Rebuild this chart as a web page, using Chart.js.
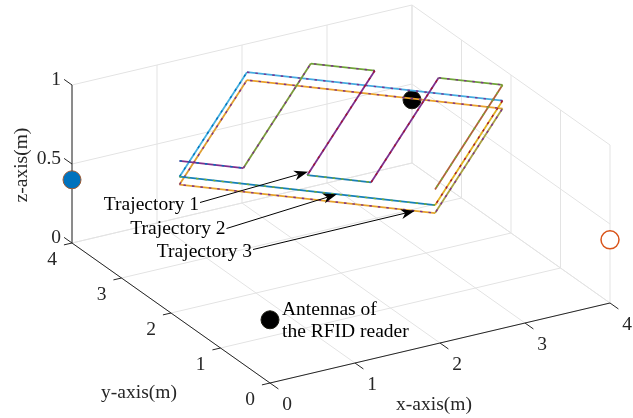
<!DOCTYPE html>
<html>
<head>
<meta charset="utf-8">
<script src="https://cdn.jsdelivr.net/npm/chart.js@4.4.1/dist/chart.umd.min.js"></script>
<style>
  html, body { margin: 0; padding: 0; background: #ffffff; }
  canvas { display: block; }
</style>
</head>
<body>
<canvas id="c" width="633" height="418"></canvas>
<script>
// ---- axis ticks (m) ----
const xTicks = [0, 1, 2, 3, 4];
const yTicks = [0, 1, 2, 3, 4];
const zTicks = [0, 0.5, 1];
const xTickLabels = ['0', '1', '2', '3', '4'];
const yTickLabels = ['0', '1', '2', '3', '4'];
const zTickLabels = ['0', '0.5', '1'];

// ---- RFID reader antennas (m) ----
const antennaX = [0, 4, 4, 0];
const antennaY = [4, 0, 4, 0];
const antennaZ = [0.4, 0.4, 0.4, 0.4];

// ---- Trajectory 1: serpentine sweep (m) ----
const traj1X = [0.1, 0.575, 2.475, 2.95, 1.05, 1.525, 3.425, 3.9, 2.0];
const traj1Y = [2.0, 1.525, 3.425, 2.95, 1.05, 0.575, 2.475, 2.0, 0.1];
const traj1Z = [0.95, 0.95, 0.95, 0.95, 0.95, 0.95, 0.95, 0.95, 0.95];

// ---- Trajectory 2: square loop (m) ----
const traj2X = [0.1, 2.0, 3.9, 2.0, 0.1];
const traj2Y = [2.0, 3.9, 2.0, 0.1, 2.0];
const traj2Z = [0.85, 0.85, 0.85, 0.85, 0.85];

// ---- Trajectory 3: square loop (m) ----
const traj3X = [0.1, 2.0, 3.9, 2.0, 0.1];
const traj3Y = [2.0, 3.9, 2.0, 0.1, 2.0];
const traj3Z = [0.8, 0.8, 0.8, 0.8, 0.8];

// ---- callout texts and the points their arrows touch (m) ----
const calloutTexts = ['Trajectory 1', 'Trajectory 2', 'Trajectory 3'];
const calloutTargetX = [1.10, 1.27, 1.85];
const calloutTargetY = [1.12, 0.83, 0.25];
const calloutTargetZ = [0.95, 0.85, 0.80];
const antennaNote = ['Antennas of', 'the RFID reader'];

// ---- styling ----
const C = {
  blue: '#0072BD', orange: '#D95319', yellow: '#EDB120', purple: '#7E2F8E',
  green: '#77AC30', cyan: '#4DBEEE', red: '#A2142F'
};
const traj1Base = [C.purple, '#7A9A3A', '#6FA438', C.purple, '#1B7FB4', C.purple, '#6FA438', '#B0623A'];
const traj1Dash = [C.blue, C.purple, C.purple, C.red, C.green, C.red, C.purple, C.green];
const traj2Base = ['#45B0E0', '#45ACE0', '#E0B022', '#1580B8'];
const traj2Dash = [C.blue, C.purple, C.red, C.green];
const traj3Base = ['#E0A030', '#EAA22A', '#A8A040', '#E6A32C'];
const traj3Dash = [C.purple, C.purple, C.purple, C.purple];

const FONT = '19.5px "Liberation Serif", "Times New Roman", serif';
const GRID_COLOR = '#E3E3E3';
const AXIS_COLOR = '#262626';

// Orthographic view of the 3-D box onto the 2-D drawing plane
const VIEW = { ox: 270, oy: 383, ux: [85, -20], uy: [-49.5, -35], uz: -158 };
const TICK = { x: 0.17, y: 0.095, z: 0.16 };
function P(x, y, z) {
  return {
    x: VIEW.ox + VIEW.ux[0] * x + VIEW.uy[0] * y,
    y: VIEW.oy + VIEW.ux[1] * x + VIEW.uy[1] * y + VIEW.uz * z
  };
}

const X0 = xTicks[0], X1 = xTicks[xTicks.length - 1];
const Y0 = yTicks[0], Y1 = yTicks[yTicks.length - 1];
const Z0 = zTicks[0], Z1 = zTicks[zTicks.length - 1];

function segData(segs) {
  const out = [];
  segs.forEach(([a, b]) => { out.push(P(...a), P(...b), { x: NaN, y: NaN }); });
  return out;
}

// Grid on the floor, the back wall (y max) and the side wall (x max)
const gridSegs = [];
xTicks.forEach(x => gridSegs.push([[x, Y0, Z0], [x, Y1, Z0]]));
yTicks.forEach(y => gridSegs.push([[X0, y, Z0], [X1, y, Z0]]));
xTicks.forEach(x => gridSegs.push([[x, Y1, Z0], [x, Y1, Z1]]));
zTicks.forEach(z => gridSegs.push([[X0, Y1, z], [X1, Y1, z]]));
yTicks.forEach(y => gridSegs.push([[X1, y, Z0], [X1, y, Z1]]));
zTicks.forEach(z => gridSegs.push([[X1, Y0, z], [X1, Y1, z]]));

// Axis lines and tick marks
const axisSegs = [
  [[X0, Y0, Z0], [X1, Y0, Z0]],
  [[X0, Y0, Z0], [X0, Y1, Z0]],
  [[X0, Y1, Z0], [X0, Y1, Z1]]
];
xTicks.forEach(x => axisSegs.push([[x, Y0, Z0], [x, Y0 - TICK.x, Z0]]));
yTicks.forEach(y => axisSegs.push([[X0, y, Z0], [X0 - TICK.y, y, Z0]]));
zTicks.forEach(z => axisSegs.push([[X0, Y1, z], [X0, Y1 + TICK.z, z]]));

function pathData(xs, ys, zs) { return xs.map((x, i) => P(x, ys[i], zs[i])); }

// each path: a solid coloured stroke with a sparse dash of a second colour on top
function trajSets(xs, ys, zs, base, dash, order) {
  const data = pathData(xs, ys, zs);
  const common = { data, showLine: true, pointRadius: 0, fill: false };
  return [
    Object.assign({}, common, { order, borderWidth: 1.8, borderColor: base[0],
      segment: { borderColor: c => base[c.p0DataIndex] } }),
    Object.assign({}, common, { order: order - 0.5, borderWidth: 1.4, borderColor: dash[0],
      borderDash: [2.5, 6],
      segment: { borderColor: c => dash[c.p0DataIndex] } })
  ];
}

const antennaFill = ['#0072BD', '#ffffff', '#000000', '#000000'];
const antennaEdge = ['#9A5A35', '#D95319', '#1a1a10', '#1a1a10'];

const datasets = [
  { data: segData(gridSegs), showLine: true, pointRadius: 0, borderWidth: 1, borderColor: GRID_COLOR, order: 20 },
  { data: segData(axisSegs), showLine: true, pointRadius: 0, borderWidth: 1, borderColor: AXIS_COLOR, order: 19 },
  { data: pathData(antennaX, antennaY, antennaZ), showLine: false, pointRadius: 9,
    pointBackgroundColor: antennaFill, pointBorderColor: antennaEdge,
    pointBorderWidth: [1, 1.5, 1, 1], order: 15 },
  ...trajSets(traj3X, traj3Y, traj3Z, traj3Base, traj3Dash, 10),
  ...trajSets(traj2X, traj2Y, traj2Z, traj2Base, traj2Dash, 8),
  ...trajSets(traj1X, traj1Y, traj1Z, traj1Base, traj1Dash, 6)
];

// Text positions on the 2-D plane
const calloutTail = [[200, 202.5], [226.5, 228.5], [253, 249.5]];
const calloutBaseline = [210, 234, 256.5];

const overlay = {
  id: 'overlay',
  afterDatasetsDraw(chart) {
    const { ctx } = chart;
    const sx = chart.scales.x, sy = chart.scales.y;
    const px = p => [sx.getPixelForValue(p.x), sy.getPixelForValue(p.y)];
    ctx.save();
    ctx.font = FONT;
    ctx.fillStyle = AXIS_COLOR;

    // tick labels
    ctx.textAlign = 'right'; ctx.textBaseline = 'alphabetic';
    zTicks.forEach((z, i) => {
      const [u, v] = px(P(X0, Y1, z));
      ctx.fillText(zTickLabels[i], u - 11, v);
    });
    ctx.textAlign = 'center';
    yTicks.forEach((y, i) => {
      const [u, v] = px(P(X0, y, Z0));
      ctx.fillText(yTickLabels[i], u - 20, v + 22);
    });
    xTicks.forEach((x, i) => {
      const [u, v] = px(P(x, Y0, Z0));
      ctx.fillText(xTickLabels[i], u + 17, v + 26.5);
    });

    // axis titles
    {
      const [u, v] = px(P((X0 + X1) / 2, Y0, Z0));
      ctx.fillText('x-axis(m)', u - 6, v + 67);
    }
    {
      const [u, v] = px(P(X0, (Y0 + Y1) / 2, Z0));
      ctx.fillText('y-axis(m)', u - 32, v + 85);
    }
    {
      const [u, v] = px(P(X0, Y1, (Z0 + Z1) / 2));
      ctx.save();
      ctx.translate(u - 45, v + 1);
      ctx.rotate(-Math.PI / 2);
      ctx.fillText('z-axis(m)', 0, 0);
      ctx.restore();
    }

    // callouts with arrows
    ctx.fillStyle = '#000000';
    ctx.strokeStyle = '#000000';
    ctx.lineWidth = 1;
    calloutTexts.forEach((t, i) => {
      const [tx, ty] = [sx.getPixelForValue(calloutTail[i][0]), sy.getPixelForValue(calloutTail[i][1])];
      const [hx, hy] = px(P(calloutTargetX[i], calloutTargetY[i], calloutTargetZ[i]));
      ctx.textAlign = 'right';
      ctx.fillText(t, tx - 1, sy.getPixelForValue(calloutBaseline[i]));
      const ang = Math.atan2(hy - ty, hx - tx);
      const L = 14, W = 5, N = 10;
      const ca = Math.cos(ang), sa = Math.sin(ang);
      ctx.beginPath();
      ctx.moveTo(tx, ty);
      ctx.lineTo(hx - ca * N, hy - sa * N);
      ctx.stroke();
      ctx.beginPath();
      ctx.moveTo(hx, hy);
      ctx.lineTo(hx - ca * L - sa * W, hy - sa * L + ca * W);
      ctx.lineTo(hx - ca * N, hy - sa * N);
      ctx.lineTo(hx - ca * L + sa * W, hy - sa * L - ca * W);
      ctx.closePath();
      ctx.fill();
    });

    // antenna note next to the front antenna
    {
      const [u, v] = px(P(antennaX[3], antennaY[3], antennaZ[3]));
      ctx.textAlign = 'left';
      ctx.fillText(antennaNote[0], u + 12, v - 4.5);
      ctx.fillText(antennaNote[1], u + 12, v + 17);
    }
    ctx.restore();
  }
};

new Chart(document.getElementById('c'), {
  type: 'scatter',
  data: { datasets },
  options: {
    responsive: false,
    animation: false,
    devicePixelRatio: 1,
    events: [],
    layout: { padding: 0, autoPadding: false },
    plugins: { legend: { display: false }, tooltip: { enabled: false } },
    scales: {
      x: { type: 'linear', min: 0, max: 633, display: false },
      y: { type: 'linear', min: 0, max: 418, reverse: true, display: false }
    }
  },
  plugins: [overlay]
});
</script>
</body>
</html>
